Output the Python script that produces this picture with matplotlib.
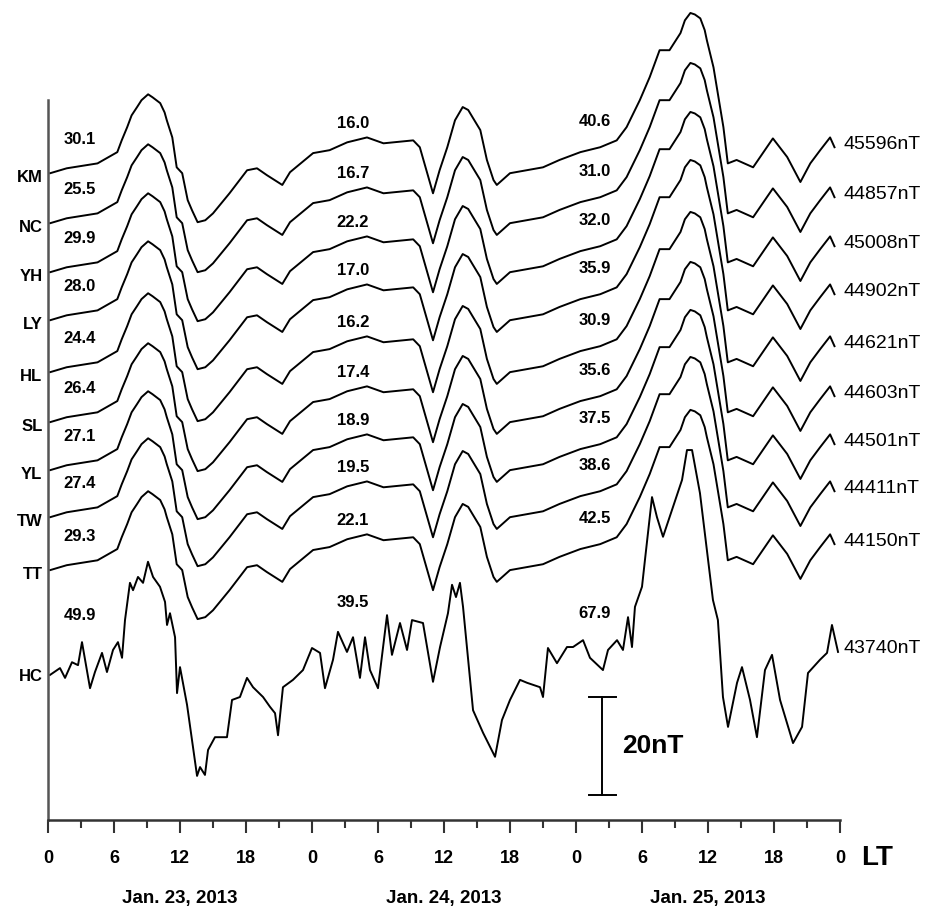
import numpy as np
import matplotlib
matplotlib.use('Agg')
import matplotlib.pyplot as plt

plt.rcParams['font.family'] = ['Liberation Sans', 'DejaVu Sans']

# stations (top to bottom), baseline level of each trace (nT above axis), labels
stations = ['KM', 'NC', 'YH', 'LY', 'HL', 'SL', 'YL', 'TW', 'TT', 'HC']
base = [132.0, 121.8, 111.8, 102.0, 91.4, 81.2, 71.4, 61.8, 51.0, 30.0]
field = ['45596nT', '44857nT', '45008nT', '44902nT', '44621nT',
         '44603nT', '44501nT', '44411nT', '44150nT', '43740nT']
amp1 = ['30.1', '25.5', '29.9', '28.0', '24.4', '26.4', '27.1', '27.4', '29.3', '49.9']
amp2 = ['16.0', '16.7', '22.2', '17.0', '16.2', '17.4', '18.9', '19.5', '22.1', '39.5']
amp3 = ['40.6', '31.0', '32.0', '35.9', '30.9', '35.6', '37.5', '38.6', '42.5', '67.9']

# common variation (hours from 00 LT Jan 23, nT relative to start) of the quiet stations
prof_h = [0.2, 1.7, 4.5, 6.3, 6.7, 7.2, 7.6, 8.1, 8.5, 9.1,
          9.5, 10.2, 10.6, 10.8, 11.3, 11.7, 12.2, 12.7, 13.1, 13.6,
          14.3, 15.0, 16.5, 18.1, 19.0, 19.9, 21.3, 22.0, 24.1, 25.6,
          27.2, 29.0, 30.5, 33.2, 33.8, 35.0, 35.6, 36.3, 37.0, 37.7,
          38.2, 38.6, 39.3, 39.9, 40.5, 40.8, 42.0, 45.0, 46.5, 48.4,
          50.2, 51.7, 52.6, 53.8, 54.7, 55.6, 56.5, 57.5, 57.9, 58.4,
          58.8, 59.3, 59.7, 59.9, 60.5, 61.4, 61.8, 62.6, 64.1, 65.9,
          67.2, 68.4, 69.3, 70.2, 71.1, 71.5]
prof_d = [0, 1.0, 2.0, 4.3, 6.7, 9.4, 11.8, 13.5, 14.9, 16.1,
          15.5, 14.3, 12.4, 10.8, 7.3, 1.2, 0, -5.5, -7.6, -10.0,
          -9.6, -8.2, -4.1, 0.6, 1.0, -0.4, -2.4, 0.2, 4.1, 4.7,
          6.3, 7.3, 6.1, 6.7, 5.3, -4.1, 0.6, 5.3, 10.8, 13.5,
          12.9, 11.4, 8.8, 2.7, -1.4, -2.4, 0, 1.2, 2.7, 4.3,
          5.3, 6.7, 9.4, 14.9, 19.6, 25.1, 25.1, 28.6, 31.2, 32.7,
          32.4, 31.6, 29.2, 27.1, 21.6, 9.4, 2.0, 2.7, 1.2, 7.1,
          3.3, -1.8, 2.0, 4.7, 7.3, 5.3]

# HC station
hc_h = [0.18, 1.09, 1.55, 2.18, 2.73, 3.09, 3.82, 4.27, 4.91, 5.36,
        5.91, 6.36, 6.73, 7.0, 7.45, 7.73, 8.18, 8.64, 9.09, 9.55,
        10.18, 10.64, 10.82, 11.09, 11.55, 11.73, 12.0, 12.64, 13.55, 13.82,
        14.27, 14.55, 15.18, 16.27, 16.73, 17.45, 18.09, 18.64, 19.55, 20.18,
        20.64, 20.91, 21.36, 22.27, 23.18, 24.0, 24.73, 25.18, 25.91, 26.36,
        27.18, 27.73, 28.36, 28.82, 29.27, 30.0, 30.82, 31.27, 32.0, 32.64,
        33.09, 34.09, 35.0, 35.64, 36.36, 36.73, 37.09, 37.45, 37.73, 38.64,
        39.55, 40.64, 41.27, 42.0, 42.91, 43.55, 44.73, 45.0, 45.45, 46.27,
        47.18, 47.73, 48.64, 49.27, 50.45, 50.91, 51.73, 52.27, 52.73, 53.09,
        53.36, 54.0, 54.27, 54.91, 55.36, 55.91, 56.82, 57.64, 58.09, 58.55,
        59.27, 60.45, 60.9, 61.36, 61.82, 62.64, 63.09, 63.82, 64.45, 65.18,
        65.82, 66.55, 67.73, 68.55, 69.09, 70.18, 70.82, 71.27, 71.82]
hc_d = [-0.4, 1.0, -1.0, 2.2, 1.6, 6.3, -3.1, 0.2, 4.1, 0.2,
        4.7, 6.3, 3.1, 10.8, 18.4, 16.9, 19.6, 18.4, 22.7, 19.6,
        17.6, 14.5, 9.8, 12.2, 7.3, -4.1, 1.2, -6.5, -21.0, -19.2,
        -20.8, -15.7, -13.1, -13.1, -5.5, -4.9, -1.0, -2.9, -4.9, -6.9,
        -8.2, -12.7, -2.9, -1.4, 0.6, 5.1, 4.1, -3.1, 2.7, 8.4,
        4.3, 7.3, -1.0, 7.3, 0.6, -3.1, 11.8, 3.7, 10.2, 4.7,
        10.8, 10.2, -1.8, 5.3, 12.2, 18.0, 15.5, 18.4, 13.5, -7.6,
        -12.2, -17.1, -9.6, -5.5, -1.4, -2.0, -2.9, -4.9, 5.1, 2.0,
        5.3, 5.3, 6.7, 3.1, 0.6, 4.7, 6.7, 4.7, 11.4, 5.3,
        13.5, 17.6, 23.1, 35.9, 31.8, 27.8, 33.9, 39.4, 45.5, 45.5,
        36.7, 14.9, 10.8, -4.9, -11.0, -2.0, 1.2, -5.5, -13.1, 0.6,
        3.7, -5.5, -14.3, -11.0, 0, 2.7, 4.1, 9.8, 4.3]

days = ['Jan. 23, 2013', 'Jan. 24, 2013', 'Jan. 25, 2013']

fig = plt.figure(figsize=(9.46, 9.11), dpi=100)
ax = fig.add_axes([48/946, 91/911, 792/946, 818/911])
ax.set_xlim(0, 72)
ax.set_ylim(0, 818/4.9)

for i, st in enumerate(stations):
    if st == 'HC':
        h, d = np.array(hc_h), np.array(hc_d)
        a1, a2, a3 = 11.8, 14.3, 12.2
    else:
        h, d = np.array(prof_h), np.array(prof_d)
        a1, a2, a3 = 6.8, 10.2, 10.6
    y = base[i] + d
    ax.plot(h, y, color='k', lw=1.4, solid_joinstyle='round')
    ax.text(-0.5, base[i] - 0.8, st, ha='right', va='center',
            fontsize=12, fontweight='bold', clip_on=False)
    ax.text(72.3, y[-1] + 0.6, field[i], ha='left', va='center',
            fontsize=14, clip_on=False)
    ax.text(2.9, base[i] + a1, amp1[i], ha='center', va='center',
            fontsize=12, fontweight='bold')
    ax.text(27.7, base[i] + a2, amp2[i], ha='center', va='center',
            fontsize=12, fontweight='bold')
    ax.text(49.7, base[i] + a3, amp3[i], ha='center', va='center',
            fontsize=12, fontweight='bold')

# 20 nT scale bar
xb, y0 = 50.4, 5.1
ax.plot([xb, xb], [y0, y0 + 20], color='k', lw=1.4)
ax.plot([xb - 1.2, xb + 1.2], [y0, y0], color='k', lw=1.4)
ax.plot([xb - 1.2, xb + 1.2], [y0 + 20, y0 + 20], color='k', lw=1.4)
ax.text(52.2, y0 + 10, '20nT', ha='left', va='center', fontsize=19, fontweight='bold')

# axes
for s in ['top', 'right']:
    ax.spines[s].set_visible(False)
ax.spines['left'].set_bounds(0, 720/4.9)
ax.spines['left'].set_color('#555555')
ax.spines['left'].set_linewidth(1.8)
ax.spines['bottom'].set_color('#333333')
ax.spines['bottom'].set_linewidth(1.8)
ax.set_yticks([])
ax.set_xticks(np.arange(0, 73, 6))
ax.set_xticklabels([str(t % 24) for t in range(0, 73, 6)], fontsize=13, fontweight='bold')
ax.set_xticks(np.arange(3, 72, 6), minor=True)
ax.tick_params(axis='x', which='major', direction='out', length=9.5, width=1.5, pad=12, color='#333333')
ax.tick_params(axis='x', which='minor', direction='out', length=5.5, width=1.5, color='#333333')

ax.text(75.4, -38/4.9, 'LT', ha='center', va='center', fontsize=20, fontweight='bold', clip_on=False)
for k, dname in enumerate(days):
    ax.text(12 + 24*k, -78/4.9, dname, ha='center', va='center', fontsize=13.5,
            fontweight='bold', clip_on=False)

fig.savefig('out.png', dpi=100)
